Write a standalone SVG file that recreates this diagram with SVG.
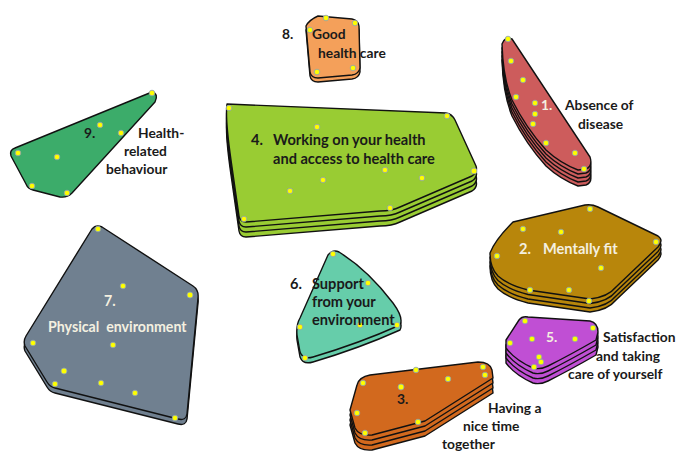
<svg xmlns="http://www.w3.org/2000/svg" xmlns:xlink="http://www.w3.org/1999/xlink" width="677" height="454" viewBox="0 0 677 454">
<style>
.sh{stroke:#111;stroke-width:1.4;stroke-linejoin:round}
.dot{fill:#ffff00;stroke:#8aa0b8;stroke-width:0.8}
text{font-family:Lato,"Liberation Sans",Arial,sans-serif;font-weight:bold;font-size:13.8px;fill:#1a1a1a}
.lt{fill:#f4f0e0}
.big{font-size:14.6px}
.md{font-size:14.2px}
</style>
<defs>
<path id="p9" d="M152,92 Q159,94 155,102 L72,193 Q67,198 60,197 L33,190 Q28,189 26,184 L11,156 Q9,150 15,148 Z"/>
<path id="p4" d="M227,104 L446,113 Q452,114 455,120 L476,166 Q478,172 472,176 L400,207 Q392,211 380,211 L246,222 Q240,222 239,216 L231,160 Q225,118 227,104 Z"/>
<path id="p8" d="M306,26 Q309,20 318,16 L352,19 Q358,20 359,26 L360,68 Q359,74 352,75 L318,78 Q311,78 310,72 Z"/>
<path id="p1" d="M502,44 Q505,36 512,39 L590,157 Q593,166 586,169 L578,170 Q560,163 546,150 Q526,128 512,100 Q503,78 502,44 Z"/>
<path id="p2" d="M490,253 Q495,240 513,222 L585,205 Q592,204 598,207 L658,236 Q664,240 658,247 L616,287 Q608,297 590,299 L528,290 Q508,285 498,276 Q490,268 490,253 Z"/>
<path id="p5" d="M506,340 L519,320 Q522,316 528,317 L590,321 Q598,323 598,332 L596,340 Q570,355 548,366 Q540,370 533,368 Q515,360 506,348 Z"/>
<path id="p7" d="M92,229 Q96,224 102,227 L193,286 Q199,290 198,298 L187,414 Q186,421 178,419 L55,388 Q50,387 47,382 L25,346 Q23,341 26,336 Z"/>
<path id="p6" d="M328,255 Q333,249 339,252 Q368,270 393,303 Q404,318 400,325 Q360,343 313,357 Q303,360 300,352 L297,335 Q296,325 300,318 Z"/>
<path id="p3" d="M357,385 Q359,377 370,375 L478,362 Q490,362 492,370 L493,378 L425,421 L372,435 Q359,436 355,428 L350,410 Z"/>
</defs>
<g id="connectors"/>
<g id="node9">
<use xlink:href="#p9" class="sh" fill="#3cac6a"/>
<circle class="dot" cx="152" cy="93" r="2.8"/><circle class="dot" cx="100" cy="125" r="2.8"/><circle class="dot" cx="121" cy="133" r="2.8"/><circle class="dot" cx="18" cy="153" r="2.8"/><circle class="dot" cx="57" cy="157" r="2.8"/><circle class="dot" cx="32" cy="186" r="2.8"/><circle class="dot" cx="67" cy="193" r="2.8"/>
<text x="84" y="138">9.</text>
<text x="138" y="138">Health-</text>
<text x="124" y="156">related</text>
<text x="106" y="174">behaviour</text>
</g>
<g id="node4">
<use xlink:href="#p4" class="sh" fill="#99cc33" transform="translate(0,15)"/>
<use xlink:href="#p4" class="sh" fill="#99cc33" transform="translate(0,10)"/>
<use xlink:href="#p4" class="sh" fill="#99cc33" transform="translate(0,5)"/>
<use xlink:href="#p4" class="sh" fill="#99cc33"/>
<circle class="dot" cx="229" cy="108" r="2.8"/><circle class="dot" cx="317" cy="127" r="2.8"/><circle class="dot" cx="447" cy="116" r="2.8"/><circle class="dot" cx="385" cy="170" r="2.8"/><circle class="dot" cx="422" cy="178" r="2.8"/><circle class="dot" cx="323" cy="180" r="2.8"/><circle class="dot" cx="290" cy="191" r="2.8"/><circle class="dot" cx="474" cy="171" r="3"/><circle class="dot" cx="390" cy="208" r="2.8"/><circle class="dot" cx="244" cy="219" r="2.8"/>
<text x="251" y="145" class="big">4.</text>
<text x="273" y="145" class="big">Working on your health</text>
<text x="273" y="164" class="big">and access  to health care</text>
</g>
<g id="node8">
<use xlink:href="#p8" class="sh" fill="#f4a05a" transform="translate(0,4)"/>
<use xlink:href="#p8" class="sh" fill="#f4a05a"/>
<circle class="dot" cx="326" cy="18" r="2.8"/><circle class="dot" cx="355" cy="23" r="2.8"/><circle class="dot" cx="310" cy="30" r="2.8"/><circle class="dot" cx="353" cy="68" r="2.8"/><circle class="dot" cx="317" cy="72" r="2.8"/>
<text x="282" y="39">8.</text>
<text x="312" y="39">Good</text>
<text x="318" y="58">health care</text>
</g>
<g id="node1">
<use xlink:href="#p1" class="sh" fill="#cd5c5c" transform="translate(0,16)"/>
<use xlink:href="#p1" class="sh" fill="#cd5c5c" transform="translate(0,12)"/>
<use xlink:href="#p1" class="sh" fill="#cd5c5c" transform="translate(0,8)"/>
<use xlink:href="#p1" class="sh" fill="#cd5c5c" transform="translate(0,4)"/>
<use xlink:href="#p1" class="sh" fill="#cd5c5c"/>
<circle class="dot" cx="508" cy="39" r="2.8"/><circle class="dot" cx="511" cy="61" r="2.8"/><circle class="dot" cx="523" cy="80" r="2.8"/><circle class="dot" cx="516" cy="97" r="2.8"/><circle class="dot" cx="535" cy="103" r="2.8"/><circle class="dot" cx="535" cy="114" r="2.8"/><circle class="dot" cx="533" cy="124" r="2.8"/><circle class="dot" cx="546" cy="143" r="2.8"/><circle class="dot" cx="575" cy="153" r="2.8"/><circle class="dot" cx="584" cy="169" r="2.8"/>
<text x="541" y="110" class="lt">1.</text>
<text x="565" y="110">Absence of</text>
<text x="578" y="129">disease</text>
</g>
<g id="node2">
<use xlink:href="#p2" class="sh" fill="#b8860b" transform="translate(0,13)"/>
<use xlink:href="#p2" class="sh" fill="#b8860b" transform="translate(0,9)"/>
<use xlink:href="#p2" class="sh" fill="#b8860b" transform="translate(0,4.5)"/>
<use xlink:href="#p2" class="sh" fill="#b8860b"/>
<circle class="dot" cx="590" cy="209" r="2.8"/><circle class="dot" cx="523" cy="229" r="2.8"/><circle class="dot" cx="561" cy="232" r="2.8"/><circle class="dot" cx="656" cy="242" r="2.8"/><circle class="dot" cx="497" cy="256" r="2.8"/><circle class="dot" cx="601" cy="268" r="2.8"/><circle class="dot" cx="530" cy="290" r="2.8"/><circle class="dot" cx="569" cy="290" r="2.8"/><circle class="dot" cx="589" cy="301" r="2.8"/>
<text x="519" y="254" class="lt big">2.</text>
<text x="543" y="254" class="lt big">Mentally fit</text>
</g>
<g id="node5">
<use xlink:href="#p5" class="sh" fill="#c04fd4" transform="translate(0,15)"/>
<use xlink:href="#p5" class="sh" fill="#c04fd4" transform="translate(0,10)"/>
<use xlink:href="#p5" class="sh" fill="#c04fd4" transform="translate(0,5)"/>
<use xlink:href="#p5" class="sh" fill="#c04fd4"/>
<circle class="dot" cx="525" cy="321" r="2.8"/><circle class="dot" cx="593" cy="328" r="2.8"/><circle class="dot" cx="510" cy="343" r="2.8"/><circle class="dot" cx="532" cy="339" r="2.8"/><circle class="dot" cx="575" cy="339" r="2.8"/><circle class="dot" cx="539" cy="357" r="2.8"/><circle class="dot" cx="541" cy="362" r="2.8"/><circle class="dot" cx="534" cy="367" r="2.8"/>
<text x="546" y="342" class="lt">5.</text>
<text x="603" y="342">Satisfaction</text>
<text x="596" y="361">and taking</text>
<text x="568" y="379">care of yourself</text>
</g>
<g id="node7">
<use xlink:href="#p7" class="sh" fill="#708090" transform="translate(0,5)"/>
<use xlink:href="#p7" class="sh" fill="#708090"/>
<circle class="dot" cx="98" cy="229" r="2.8"/><circle class="dot" cx="123" cy="286" r="2.8"/><circle class="dot" cx="190" cy="295" r="3"/><circle class="dot" cx="33" cy="343" r="2.8"/><circle class="dot" cx="113" cy="345" r="2.8"/><circle class="dot" cx="64" cy="371" r="3"/><circle class="dot" cx="55" cy="384" r="2.8"/><circle class="dot" cx="101" cy="383" r="2.8"/><circle class="dot" cx="135" cy="393" r="2.8"/><circle class="dot" cx="175" cy="418" r="2.8"/>
<text x="104" y="306" class="lt md">7.</text>
<text x="48" y="332" class="lt md" xml:space="preserve">Physical  environment</text>
</g>
<g id="node6">
<use xlink:href="#p6" class="sh" fill="#66cdaa" transform="translate(0,5)"/>
<use xlink:href="#p6" class="sh" fill="#66cdaa"/>
<circle class="dot" cx="333" cy="254" r="2.8"/><circle class="dot" cx="368" cy="283" r="2.8"/><circle class="dot" cx="300" cy="327" r="2.8"/><circle class="dot" cx="360" cy="325" r="2.8"/><circle class="dot" cx="397" cy="325" r="2.8"/><circle class="dot" cx="305" cy="358" r="2.8"/>
<text x="290" y="289" class="big">6.</text>
<text x="312" y="289" class="big">Support</text>
<text x="312" y="307" class="big">from your</text>
<text x="312" y="325" class="big">environment</text>
</g>
<g id="node3">
<use xlink:href="#p3" class="sh" fill="#d2691e" transform="translate(0,15)"/>
<use xlink:href="#p3" class="sh" fill="#d2691e" transform="translate(0,10)"/>
<use xlink:href="#p3" class="sh" fill="#d2691e" transform="translate(0,5)"/>
<use xlink:href="#p3" class="sh" fill="#d2691e"/>
<circle class="dot" cx="483" cy="367" r="2.8"/><circle class="dot" cx="416" cy="370" r="2.8"/><circle class="dot" cx="485" cy="375" r="2.8"/><circle class="dot" cx="448" cy="379" r="2.8"/><circle class="dot" cx="363" cy="383" r="2.8"/><circle class="dot" cx="401" cy="387" r="3"/><circle class="dot" cx="357" cy="413" r="2.8"/><circle class="dot" cx="418" cy="422" r="2.8"/><circle class="dot" cx="365" cy="433" r="2.8"/>
<text x="397" y="404">3.</text>
<text x="488" y="413">Having a</text>
<text x="463" y="431">nice time</text>
<text x="442" y="449">together</text>
</g>
</svg>
